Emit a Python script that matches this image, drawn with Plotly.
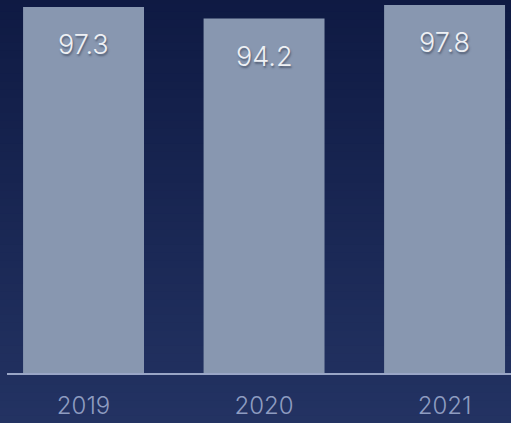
import plotly.graph_objects as go

years = ["2019", "2020", "2021"]
values = [97.3, 94.2, 97.8]
labels = ["97.3", "94.2", "97.8"]

W, H = 511, 423

fig = go.Figure()
fig.add_trace(go.Bar(
    x=years, y=values, width=0.67,
    marker=dict(color="#8897b0", line=dict(width=0)),
    hoverinfo="skip",
))

for i, (v, lab) in enumerate(zip(values, labels)):
    fig.add_annotation(
        x=i, y=v, xref="x", yref="y", text=lab, showarrow=False, yanchor="top", yshift=-19,
        font=dict(family="Inter, Lato, sans-serif", size=27, weight=300, color="#eef0f4",
                  shadow="1px 2px 2px rgba(40,50,70,0.55)"),
    )

# background gradient strips
top = (14, 25, 66)
bot = (36, 52, 100)
n = 60
shapes = []
for i in range(n):
    t = i / (n - 1)
    c = tuple(int(round(top[k] + (bot[k] - top[k]) * t)) for k in range(3))
    shapes.append(dict(
        type="rect", xref="paper", yref="paper", layer="below",
        x0=-0.1, x1=1.1, y0=1.05 - (i + 1) * (1.25 / n), y1=1.05 - i * (1.25 / n) + 0.002,
        fillcolor="rgb(%d,%d,%d)" % c, line=dict(width=0),
    ))

fig.update_layout(
    width=W, height=H,
    margin=dict(l=7, r=0, t=0, b=50),
    paper_bgcolor="#1a2753",
    plot_bgcolor="rgba(0,0,0,0)",
    shapes=shapes,
    showlegend=False,
    xaxis=dict(
        type="category", range=[-0.424, 2.368],
        showgrid=False, zeroline=False,
        showline=True, linecolor="#9aa6c6", linewidth=1.5,
        ticks="", tickfont=dict(family="Inter, Lato, sans-serif", size=24, weight=300, color="#8e9cc0"),
        ticklabelstandoff=10,
    ),
    yaxis=dict(range=[0, 99.15], visible=False, showgrid=False, zeroline=False),
)

fig.write_html("out.html")
